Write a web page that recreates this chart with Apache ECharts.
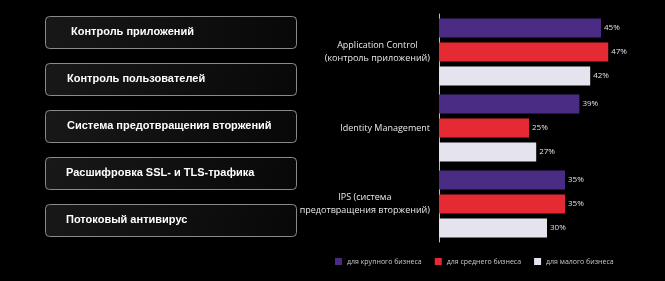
<!DOCTYPE html>
<html><head><meta charset="utf-8">
<script src="https://cdn.jsdelivr.net/npm/echarts@6/dist/echarts.min.js"></script>
<style>html,body{margin:0;padding:0;background:#000;}#c{width:665px;height:281px;}</style>
</head><body><div id="c"></div>
<script>
var categories = ['Application Control\n(контроль приложений)', 'Identity Management', 'IPS (система\nпредотвращения вторжений)'];
var seriesNames = ['для крупного бизнеса', 'для среднего бизнеса', 'для малого бизнеса'];
var largeBiz = [45, 39, 35];
var mediumBiz = [47, 25, 35];
var smallBiz = [42, 27, 30];
var boxLabels = ['Контроль приложений', 'Контроль пользователей', 'Система предотвращения вторжений', 'Расшифровка SSL- и TLS-трафика', 'Потоковый антивирус'];
var colors = ['#4b2c84', '#e52a33', '#e4e3ee'];

var boxTops = [16, 63, 110, 157, 204];
var textX = [71, 67, 67, 66, 66];
var graphics = [];
boxLabels.forEach(function (t, i) {
  graphics.push({
    type: 'rect', left: 45, top: boxTops[i],
    shape: {width: 251, height: 32, r: 4},
    style: {
      fill: new echarts.graphic.LinearGradient(0, 0, 1, 1, [{offset: 0, color: '#181818'}, {offset: 1, color: '#080808'}]),
      stroke: '#8a8a8a', lineWidth: 1
    }
  });
  graphics.push({
    type: 'text', left: textX[i], top: boxTops[i] + 10,
    style: {text: t, fill: '#ffffff', font: 'bold 11px "Liberation Sans", Arial, sans-serif'}
  });
});

var chart = echarts.init(document.getElementById('c'));
var dataSets = [largeBiz, mediumBiz, smallBiz];
chart.setOption({
  backgroundColor: '#000',
  animation: false,
  graphic: graphics,
  grid: {left: 439, top: 14, width: 216, height: 228},
  legend: {
    left: 335, top: 258, padding: 0, itemWidth: 7, itemHeight: 7, itemGap: 13,
    icon: 'rect',
    data: seriesNames,
    textStyle: {color: '#c8c8c8', fontSize: 7, fontFamily: 'Open Sans, sans-serif'}
  },
  xAxis: {type: 'value', min: 0, max: 60, show: false},
  yAxis: {
    type: 'category', inverse: true, data: categories,
    axisLine: {show: true, lineStyle: {color: '#bdbdbd', width: 1}},
    axisTick: {show: false},
    axisLabel: {
      color: '#e8e8e8', margin: 9, align: 'right',
      formatter: function (v) { return v.split('\n').map(function (l) { return '{c|' + l + '}'; }).join('\n'); },
      rich: {c: {align: 'center', fontSize: 9, lineHeight: 13, color: '#e8e8e8', fontFamily: 'Open Sans, sans-serif'}}
    }
  },
  series: dataSets.map(function (d, i) {
    return {
      type: 'bar', name: seriesNames[i], data: d,
      barWidth: 19, barGap: '26%',
      itemStyle: {color: colors[i]},
      label: {show: true, position: 'right', distance: 3, formatter: '{c}%', color: '#e0e0e0', fontSize: 8, fontFamily: 'Open Sans, sans-serif'}
    };
  })
});
</script></body></html>
